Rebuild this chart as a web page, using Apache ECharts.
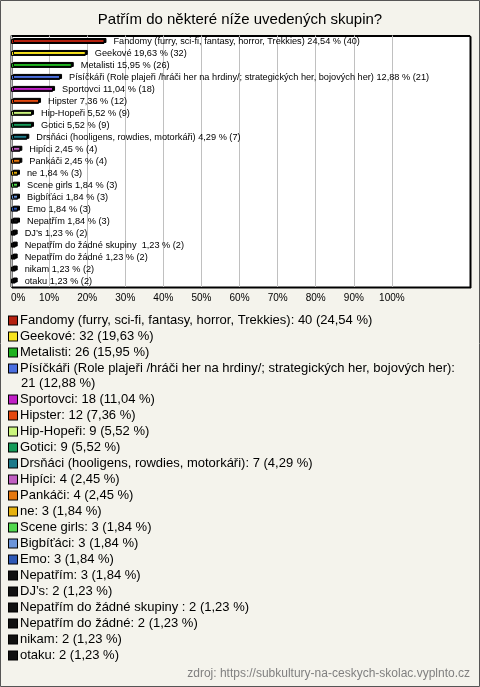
<!DOCTYPE html>
<html><head><meta charset="utf-8">
<script src="https://cdn.jsdelivr.net/npm/echarts@6/dist/echarts.min.js"></script>
<style>html,body{margin:0;padding:0;background:#F4F3EC}#c{width:480px;height:687px}</style>
</head><body><div id="c"></div>
<script>
const FONT = '"Liberation Sans", Arial, sans-serif';
const titleText = 'Patřím do některé níže uvedených skupin?';
const sourceText = 'zdroj: https://subkultury-na-ceskych-skolac.vyplnto.cz';
const categories = [
  'Fandomy (furry, sci-fi, fantasy, horror, Trekkies)',
  'Geekové',
  'Metalisti',
  'Písíčkáři (Role plajeři /hráči her na hrdiny/; strategických her, bojových her)',
  'Sportovci',
  'Hipster',
  'Hip-Hopeři',
  'Gotici',
  'Drsňáci (hooligens, rowdies, motorkáři)',
  'Hipíci',
  'Pankáči',
  'ne',
  'Scene girls',
  'Bigbíťáci',
  'Emo',
  'Nepatřím',
  'DJ\u2019s',
  'Nepatřím do žádné skupiny ',
  'Nepatřím do žádné',
  'nikam',
  'otaku'
];
const counts = [40, 32, 26, 21, 18, 12, 9, 9, 7, 4, 4, 3, 3, 3, 3, 3, 2, 2, 2, 2, 2];
const percents = [24.54, 19.63, 15.95, 12.88, 11.04, 7.36, 5.52, 5.52, 4.29, 2.45, 2.45, 1.84, 1.84, 1.84, 1.84, 1.84, 1.23, 1.23, 1.23, 1.23, 1.23];
const colors = ['#B5210F', '#F7E21C', '#1FB21F', '#4B6FE0', '#C01FC6', '#E4480F', '#CBF57C', '#169A58', '#1D7A8A', '#C05EC2', '#E5780F', '#E6B10E', '#52D84E', '#6C95DA', '#2E58B5',
  '#111111', '#111111', '#111111', '#111111', '#111111', '#111111'];
const tickValues = [0, 10, 20, 30, 40, 50, 60, 70, 80, 90, 100];

const fmt = v => v.toFixed(2).replace('.', ',');

const series = categories.map((name, i) => ({
  name: name,
  type: 'bar',
  stack: 'all',
  barWidth: 5,
  animation: false,
  itemStyle: { color: colors[i], borderColor: '#000', borderWidth: 1, shadowColor: '#000', shadowOffsetX: 2, shadowOffsetY: -1, shadowBlur: 0 },
  label: {
    show: true, position: 'right', distance: 9, fontSize: 9.2, fontFamily: FONT, color: '#000',
    formatter: () => name + ' ' + fmt(percents[i]) + ' % (' + counts[i] + ')'
  },
  data: categories.map((c, j) => j === i ? percents[i] : '-')
}));

const rich = {
  t: { fontSize: 13, fontFamily: FONT, color: '#000', lineHeight: 15, padding: [0, 0, 0, 3], verticalAlign: 'middle' },
  sp: { width: 9, height: 9, fontSize: 13, lineHeight: 15, verticalAlign: 'middle' }
};
colors.forEach((c, i) => {
  rich['c' + i] = { width: 8, height: 8, backgroundColor: c, borderColor: '#000', borderWidth: 1, fontSize: 13, lineHeight: 15, verticalAlign: 'middle' };
});
const measureCanvas = document.createElement('canvas').getContext('2d');
measureCanvas.font = '13px ' + FONT;

// grid lines only up to 100 %
const splitColors = [];
for (let k = 0; k < 16; k++) splitColors.push(k <= 10 ? '#C0C0C0' : 'rgba(0,0,0,0)');

const chart = echarts.init(document.getElementById('c'), null, { renderer: 'canvas' });
chart.setOption({
  backgroundColor: '#F4F3EC',
  animation: false,
  title: [
    { text: titleText, left: 'center', top: 11, padding: 0,
      textStyle: { fontSize: 15, fontWeight: 'normal', fontFamily: FONT, color: '#000', lineHeight: 18 } },
    { text: sourceText, right: 10, top: 667, padding: 0,
      textStyle: { fontSize: 12, fontWeight: 'normal', fontFamily: FONT, color: '#808080', lineHeight: 14 } }
  ],
  graphic: [
    { type: 'rect', silent: true, z: 100, shape: { x: 0.5, y: 0.5, width: 479, height: 686 }, style: { fill: 'none', stroke: '#555', lineWidth: 1 } }
  ],
  grid: { left: 11, right: 10, top: 35.5, bottom: 400, show: true, backgroundColor: '#fff', borderColor: '#000', borderWidth: 1,
    shadowColor: '#000', shadowOffsetX: 1, shadowOffsetY: 1, shadowBlur: 0 },
  xAxis: {
    type: 'value', min: 0, max: 120.5, interval: 10,
    axisLine: { show: false },
    axisTick: { show: false, customValues: tickValues },
    splitLine: { show: true, lineStyle: { color: splitColors, width: 1 } },
    axisLabel: { show: true, fontSize: 10, fontFamily: FONT, color: '#000', margin: 6, alignMinLabel: 'left',
      customValues: tickValues, formatter: v => v + '%' }
  },
  yAxis: {
    type: 'category', data: categories, inverse: true,
    axisLine: { show: false }, axisTick: { show: false }, axisLabel: { show: false }, splitLine: { show: false }
  },
  legend: {
    orient: 'vertical', left: 4, top: 313, padding: 0, itemGap: 1, itemWidth: 0, itemHeight: 0, icon: 'rect',
    selectedMode: false,
    itemStyle: { color: 'transparent', borderWidth: 0, shadowColor: 'transparent', shadowOffsetX: 0, shadowOffsetY: 0 },
    textStyle: { fontSize: 13, fontFamily: FONT, color: '#000', lineHeight: 15, rich: rich },
    data: categories,
    formatter: name => {
      const i = categories.indexOf(name);
      const head = name + ':';
      const tail = counts[i] + ' (' + fmt(percents[i]) + ' %)';
      const full = head + ' ' + tail;
      if (measureCanvas.measureText(full).width + 21 > 468) {
        return '{c' + i + '| }{t|' + head + '}\n{sp| }{t|' + tail + '}';
      }
      return '{c' + i + '| }{t|' + full + '}';
    }
  },
  series: series
});
</script>
</body></html>
